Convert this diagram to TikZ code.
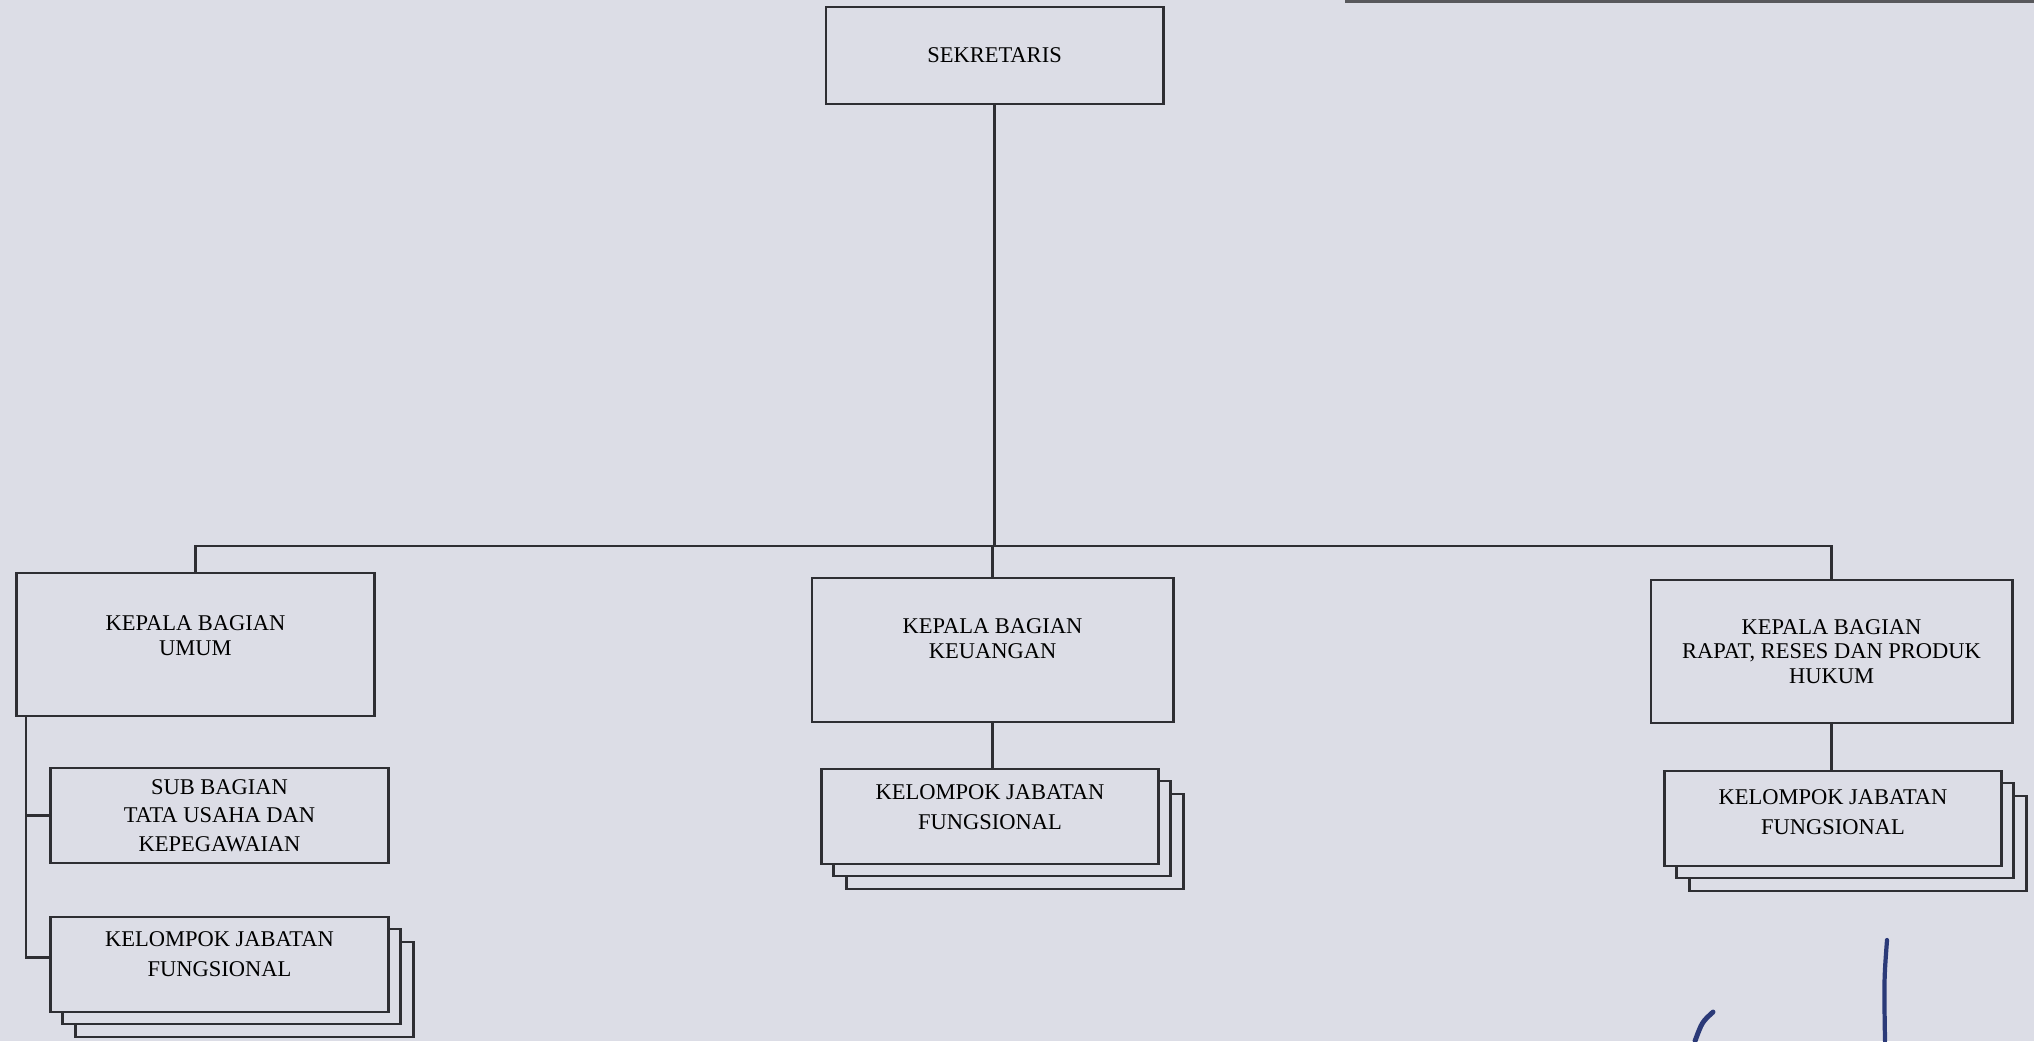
\documentclass[tikz,border=0pt]{standalone}
\usepackage{fontspec}
\setmainfont{Liberation Serif}
\usetikzlibrary{calc}
\definecolor{scanbg}{HTML}{DCDDE6}
\definecolor{inkgray}{HTML}{2E2E33}
\definecolor{pennavy}{HTML}{2B3A78}

\begin{document}
\begin{tikzpicture}[x=0.01cm,y=-0.01cm,font=\fontsize{6.4}{7}\selectfont,
  unit/.style={draw=inkgray,fill=scanbg,line width=0.8pt,align=center,inner sep=0pt},
  link/.style={inkgray,line width=0.8pt},
  shadow/.style={draw=inkgray,fill=scanbg,line width=0.8pt}]

  % =====================================================================
  % 1. PAPER
  % =====================================================================
  \fill[scanbg] (0,0) rectangle (2034,1041);
  \useasboundingbox (0,0) rectangle (2034,1041);
  \fill[inkgray!80] (1345,0) rectangle (2034,3);

  % =====================================================================
  % 2. UNITS
  % =====================================================================
  \node[unit,minimum width=3.37cm,minimum height=0.97cm] (sek) at (994.5,55.5) {SEKRETARIS};

  \node[unit,minimum width=3.57cm,minimum height=1.43cm,
        label={[anchor=north,align=center,yshift=-0.32cm]north:KEPALA BAGIAN\\UMUM}] (umum) at (195.5,644.5) {};
  \node[unit,minimum width=3.61cm,minimum height=1.44cm,
        label={[anchor=north,align=center,yshift=-0.30cm]north:KEPALA BAGIAN\\KEUANGAN}] (keu) at (992.5,650) {};
  \node[unit,minimum width=3.61cm,minimum height=1.43cm]
        (rapat) at (1831.5,651.5) {KEPALA BAGIAN\\RAPAT, RESES DAN PRODUK\\HUKUM};

  \node[unit,minimum width=3.37cm,minimum height=0.95cm]
        (tu) at (219.5,815.5) {SUB BAGIAN\\[1.1pt]TATA USAHA DAN\\[1.1pt]KEPEGAWAIAN};

  % Kelompok jabatan fungsional (stacked sheets)
  \foreach \nm/\cx/\cy/\dy in {jfumum/219.5/964.5/-0.04cm, jfkeu/990/816.5/-0.05cm, jfrapat/1833/818.5/-0.08cm}{
    \node[shadow,minimum width=3.37cm,minimum height=0.95cm] at (\cx+25,\cy+25) {};
    \node[shadow,minimum width=3.37cm,minimum height=0.95cm] at (\cx+12,\cy+12) {};
    \node[unit,minimum width=3.37cm,minimum height=0.95cm,
          label={[anchor=north,align=center,yshift=\dy]north:KELOMPOK JABATAN\\[1.4pt]FUNGSIONAL}]
          (\nm) at (\cx,\cy) {};
  }

  % =====================================================================
  % 3. CONNECTORS
  % =====================================================================
  \coordinate (bus) at (0,546);
  \coordinate (spine) at (26,0);

  \draw[link] (sek.south) -- (sek.south |- bus);
  \draw[link] (umum.north) -- (umum.north |- bus) -- (rapat.north |- bus) -- (rapat.north);
  \draw[link] (keu.north) -- (keu.north |- bus);

  \draw[link] (umum.south -| spine) -- ($(spine |- jfumum.west)+(0,-7)$) -- ($(jfumum.west)+(0,-7)$);
  \draw[link] (spine |- tu.west) -- (tu.west);

  \draw[link] (keu.south) -- (keu.south |- jfkeu.north);
  \draw[link] (rapat.south) -- (rapat.south |- jfrapat.north);

  % signature strokes
  \draw[pennavy,line width=1.2pt,line cap=round] (1887,940) .. controls (1884,980) .. (1885,1041);
  \draw[pennavy,line width=1.4pt,line cap=round] (1713,1012) .. controls (1702,1022) .. (1695,1041);

\end{tikzpicture}
\end{document}
